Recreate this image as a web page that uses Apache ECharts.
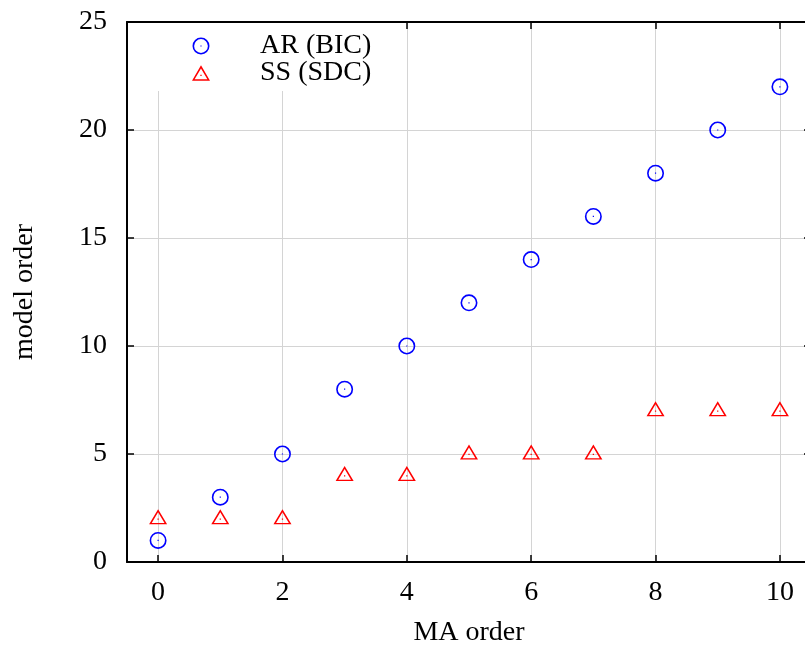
<!DOCTYPE html>
<html><head><meta charset="utf-8">
<script src="https://cdn.jsdelivr.net/npm/echarts@6/dist/echarts.min.js"></script>
<style>html,body{margin:0;padding:0;overflow:hidden;background:#fff}#c{width:811px;height:652px}</style>
</head><body><div id="c"></div>
<script>
const maOrder = [0,1,2,3,4,5,6,7,8,9,10];
const arBIC = [1,3,5,8,10,12,14,16,18,20,22];
const ssSDC = [2,2,2,4,4,5,5,5,7,7,7];
const xTicks = [0,2,4,6,8,10];
const seriesNames = ['AR (BIC)','SS (SDC)'];

const FONT = 'Liberation Serif';
const FS = 28;
const circlePath = 'path://M10,0 A10,10 0 1,1 10,20 A10,10 0 1,1 10,0 Z M10,1.9 A8.1,8.1 0 1,0 10,18.1 A8.1,8.1 0 1,0 10,1.9 Z M9.3,9.3 L10.7,9.3 L10.7,10.7 L9.3,10.7 Z';
const triPath = 'path://M10,0 L20,17 L0,17 Z M10,3.4 L2.9,15.5 L17.1,15.5 Z M9.3,10.5 L10.7,10.5 L10.7,11.9 L9.3,11.9 Z';

const chart = echarts.init(document.getElementById('c'), null, {renderer:'canvas'});
const axisLine = {show:true, onZero:false, lineStyle:{color:'#000', width:2}};
const tick = {show:true, inside:true, length:7, lineStyle:{color:'#000', width:1.5}};
chart.setOption({
  animation:false,
  backgroundColor:'#fff',
  grid:{left:127, right:0, top:22, bottom:87, containLabel:false},
  legend:{
    orient:'vertical', left:137, top:23,
    padding:[9,20,4,55],
    backgroundColor:'#fff',
    itemWidth:18, itemHeight:17, itemGap:-1,
    data:[{name:seriesNames[0], icon:circlePath},{name:seriesNames[1], icon:triPath}],
    formatter: n => '{g| }{t|' + n + '}',
    textStyle:{fontFamily:FONT, fontSize:FS, color:'#000', lineHeight:22,
      rich:{g:{width:45}, t:{fontFamily:FONT, fontSize:FS, color:'#000', lineHeight:22}}}
  },
  xAxis:[{
    type:'value', min:-0.5, max:10.5, position:'bottom',
    name:'MA order', nameLocation:'middle', nameGap:57,
    nameTextStyle:{fontFamily:FONT, fontSize:FS, color:'#000'},
    axisLine:axisLine,
    axisTick:Object.assign({customValues:xTicks}, tick),
    axisLabel:{customValues:xTicks, fontFamily:FONT, fontSize:FS, color:'#000', margin:17},
    splitLine:{show:true, lineStyle:{color:'#d4d4d4', width:1}}
  },{
    type:'value', min:-0.5, max:10.5, position:'top',
    axisLine:axisLine, axisTick:Object.assign({customValues:xTicks}, tick),
    axisLabel:{show:false}, splitLine:{show:false}
  }],
  yAxis:[{
    type:'value', min:0, max:25, interval:5, position:'left',
    name:'model order', nameLocation:'middle', nameGap:88, nameRotate:90,
    nameTextStyle:{fontFamily:FONT, fontSize:FS, color:'#000'},
    axisLine:axisLine, axisTick:tick,
    axisLabel:{fontFamily:FONT, fontSize:FS, color:'#000', margin:20},
    splitLine:{show:true, lineStyle:{color:'#d4d4d4', width:1}}
  },{
    type:'value', min:0, max:25, interval:5, position:'right',
    axisLine:axisLine, axisTick:tick, axisLabel:{show:false}, splitLine:{show:false}
  }],
  series:[{
    name:seriesNames[0], type:'scatter', xAxisIndex:0, yAxisIndex:0,
    symbol:circlePath, symbolSize:17,
    itemStyle:{color:'#0000ff', opacity:1},
    data: maOrder.map((x,i)=>[x, arBIC[i]])
  },{
    name:seriesNames[1], type:'scatter', xAxisIndex:0, yAxisIndex:0,
    symbol:triPath, symbolSize:[18,15], symbolOffset:[0,-2],
    itemStyle:{color:'#ff0000', opacity:1},
    data: maOrder.map((x,i)=>[x, ssSDC[i]])
  }]
});
</script></body></html>
